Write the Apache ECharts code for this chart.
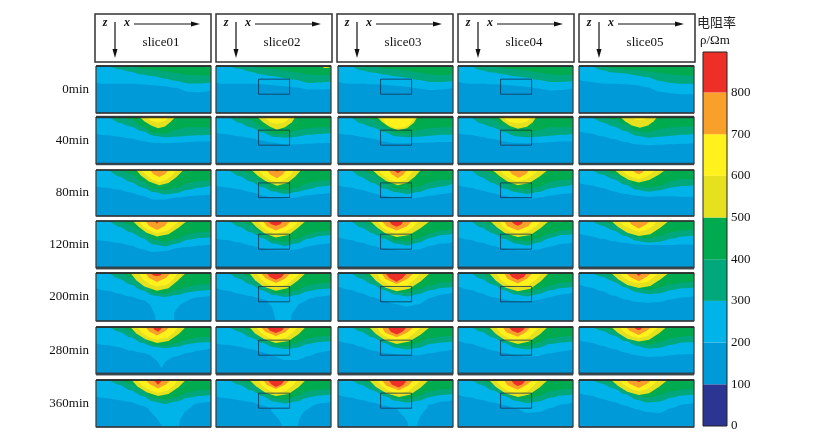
<!DOCTYPE html>
<html>
<head>
<meta charset="utf-8">
<script src="https://cdn.jsdelivr.net/npm/echarts@6/dist/echarts.min.js"></script>
<style>html,body{margin:0;padding:0;background:#fff}#c{width:814px;height:444px}</style>
</head>
<body>
<div id="c"></div>
<script>
const timeLabels = ['0min','40min','80min','120min','200min','280min','360min'];
const sliceNames = ['slice01','slice02','slice03','slice04','slice05'];
const bandTicks = [0,100,200,300,400,500,600,700,800];
const bandSpans = [100,100,100,100,100,100,100,100,97];
const bandColors = ['#2d3592','#009ad9','#00b4ea','#00a87c','#00aa4f','#e5e11f','#fff11c','#f9a02b','#ee2f27'];

// Horizontal sample positions (% of the section width) for the 200/300/400 contours
const sampleX = [0,10,20,30,40,50,60,70,80,90,100];
// Survey box outline in slices 02-04 (section %)
const boxX = [37,64,64,37,37];
const boxDepth = [28,28,60,60,28];

// Contour depths (% of section height), indexed [time][slice]
const edge200 = [
 [[36,38,38,38,39,41,43,47,55,56,52],[36,38,38,38,39,41,43,46,50,50,49],[34,38,38,39,40,42,44,48,51,50,47],[34,38,38,39,40,42,44,48,52,51,48],[30,34,37,38,39,41,46,55,58,60,60]],
 [[36,39,42,46,51,55,56,55,53,52,52],[34,37,41,45,50,55,59,58,57,56,55],[35,38,42,46,52,56,56,55,54,53,53],[35,38,42,47,52,55,56,55,53,52,52],[31,35,41,47,53,58,60,59,58,57,56]],
 [[36,39,43,49,56,64,64,60,57,55,53],[34,38,42,48,55,60,62,59,55,52,50],[33,38,43,50,56,60,62,60,56,52,49],[33,38,44,50,56,60,62,60,56,52,50],[29,33,39,46,52,56,58,57,57,58,58]],
 [[40,43,47,52,60,66,64,58,55,52,50],[38,41,46,52,58,62,63,60,54,50,47],[34,40,46,53,58,62,63,60,53,48,45],[34,40,46,53,58,62,63,60,54,49,46],[27,32,38,43,47,50,51,51,51,50,50]],
 [[32,37,43,49,56,62,62,60,55,50,48],[32,37,43,48,54,60,64,62,54,49,46],[28,35,42,50,58,65,70,65,52,45,41],[28,35,42,50,55,58,60,56,50,45,41],[24,30,38,47,55,60,62,60,55,51,49]],
 [[35,39,43,50,55,62,70,62,55,50,46],[35,38,42,47,53,62,70,70,62,54,49],[29,35,42,50,55,58,60,60,56,52,48],[29,35,42,50,55,60,63,61,56,52,48],[28,33,40,47,54,60,64,63,60,58,57]],
 [[35,39,43,47,55,66,70,68,56,49,46],[35,39,43,47,54,62,70,66,56,50,47],[32,37,42,48,54,60,66,64,52,46,43],[32,37,42,48,53,60,70,68,60,52,48],[28,33,40,47,55,62,68,70,60,52,49]]
];
const edge300 = [
 [[0,0,7,12,18,22,27,32,37,37,35],[0,0,6,12,18,22,26,30,36,35,33],[0,0,9,14,18,22,25,30,34,34,32],[0,0,9,14,18,22,25,30,34,34,32],[0,0,9,14,16,20,24,32,36,38,38]],
 [[0,0,12,20,30,40,43,42,40,39,38],[0,0,12,22,33,42,44,42,38,36,34],[0,0,14,22,32,41,43,42,40,38,37],[0,0,14,22,32,41,43,42,40,38,36],[0,0,11,20,30,40,44,42,40,38,36]],
 [[0,0,14,26,38,48,53,50,43,38,34],[0,0,13,25,37,47,52,48,42,36,33],[0,0,15,28,40,48,52,48,40,36,30],[0,0,15,28,40,48,52,48,40,36,32],[0,0,10,20,32,43,47,44,38,35,33]],
 [[0,0,12,24,36,50,54,48,40,36,35],[0,0,12,24,36,48,53,48,38,32,30],[0,0,14,26,38,48,52,46,36,30,27],[0,0,14,26,38,48,52,46,36,30,28],[0,0,10,20,32,42,46,44,38,33,31]],
 [[0,0,12,24,36,47,50,46,40,37,35],[0,0,12,24,36,46,50,46,38,34,32],[0,0,12,24,36,45,49,44,36,31,29],[0,0,12,24,36,45,49,44,36,31,29],[0,0,8,18,30,40,44,42,36,32,30]],
 [[0,0,10,22,34,42,45,42,36,33,32],[0,0,10,22,34,43,47,44,36,32,30],[0,0,10,22,34,44,48,44,36,33,31],[0,0,10,22,34,44,48,44,36,33,31],[0,0,8,18,30,40,46,44,38,33,32]],
 [[0,0,10,22,34,46,51,46,38,34,32],[0,0,10,22,34,46,50,46,37,33,31],[0,0,10,22,34,44,48,44,36,32,30],[0,0,10,22,34,44,49,46,38,33,31],[0,0,8,18,30,42,48,46,38,33,31]]
];
const edge400 = [
 [[0,0,0,0,6,8,11,15,19,20,20],[0,0,0,0,5,7,10,14,18,19,20],[0,0,0,0,5,7,10,14,18,19,18],[0,0,0,0,5,7,10,14,18,19,18],[0,0,0,5,8,8,11,15,18,20,21]],
 [[0,0,0,5,20,34,35,27,22,22,23],[0,0,0,6,22,36,36,28,24,22,22],[0,0,0,5,20,34,35,28,24,22,22],[0,0,0,5,18,32,34,28,22,22,22],[0,0,0,5,16,30,32,26,22,20,20]],
 [[0,0,0,8,24,40,44,38,28,24,22],[0,0,0,8,24,40,44,38,28,24,22],[0,0,0,9,26,40,42,36,26,22,20],[0,0,0,9,26,40,42,36,26,22,20],[0,0,0,7,20,34,38,34,24,20,20]],
 [[0,0,0,8,22,40,44,38,28,24,22],[0,0,0,8,24,41,44,38,28,22,20],[0,0,0,9,26,41,43,36,26,20,18],[0,0,0,9,26,41,43,36,26,20,18],[0,0,0,7,20,34,38,32,24,20,18]],
 [[0,0,0,8,22,41,43,36,28,24,22],[0,0,0,8,23,41,43,36,26,22,20],[0,0,0,9,24,39,41,34,26,20,18],[0,0,0,9,24,39,41,34,26,20,18],[0,0,0,7,19,32,36,30,24,20,18]],
 [[0,0,0,8,22,37,40,34,26,22,20],[0,0,0,8,22,38,42,34,24,20,18],[0,0,0,8,23,38,41,34,24,20,18],[0,0,0,8,23,38,41,34,24,20,18],[0,0,0,7,19,32,38,32,24,20,18]],
 [[0,0,0,8,22,38,42,36,26,22,20],[0,0,0,8,22,38,42,34,24,21,19],[0,0,0,8,23,38,41,34,24,20,18],[0,0,0,8,23,38,41,34,24,20,18],[0,0,0,7,19,32,38,32,24,20,18]]
];

// Low-resistivity plumes below the 200 contour: [x%, depth%] pairs
const plume200 = [
 [[],[],[],[],[]],
 [[],[],[],[],[]],
 [[],[],[],[],[]],
 [[],[],[],[],[]],
 [[[42,56],[47,66],[51,85],[52,100],[68,100],[68,82],[73,66],[84,52]],[[44,58],[49,72],[52,100],[65,100],[66,85],[72,65],[80,55]],[],[],[]],
 [[[48,62],[53,72],[57,87],[60,74],[65,66]],[],[],[],[]],
 [[[46,64],[53,82],[58,100],[72,100],[73,85],[77,68],[84,55]],[[48,66],[55,85],[58,100],[71,100],[72,85],[76,68],[85,53]],[[52,65],[58,80],[61,92],[61,100],[69,100],[69,92],[72,75],[78,58]],[],[]]
];

// High-resistivity domes from the surface: [x%, depth%] pairs
const dome500 = [
 [[[92,0],[93,4],[100,4]],[[92,0],[94,4],[100,4]],[[97,0],[98,3],[100,3]],[],[]],
 [[[38,0],[42,9],[48,18],[54,24],[60,20],[65,10],[69,0]],[[36,0],[41,11],[47,21],[53,27],[60,22],[66,11],[69,0]],[[34,0],[38,10],[45,22],[52,28],[60,24],[66,12],[69,0]],[[35,0],[39,9],[45,19],[52,25],[60,21],[65,11],[68,0]],[[36,0],[40,9],[46,18],[53,23],[60,18],[65,9],[68,0]]],
 [[[35,0],[39,12],[46,25],[55,33],[63,28],[70,15],[76,0]],[[31,0],[36,12],[43,24],[53,34],[62,28],[69,14],[74,0]],[[30,0],[35,12],[42,24],[52,33],[60,28],[67,14],[72,0]],[[30,0],[36,13],[43,25],[52,33],[62,28],[71,14],[78,0]],[[31,0],[36,11],[43,21],[52,27],[61,22],[69,11],[75,0]]],
 [[[32,0],[37,12],[44,25],[53,33],[63,28],[72,14],[79,0]],[[30,0],[35,13],[42,26],[52,35],[63,30],[71,15],[78,0]],[[28,0],[34,14],[41,26],[51,34],[62,30],[72,15],[80,0]],[[28,0],[34,14],[41,26],[52,34],[63,30],[72,15],[79,0]],[[28,0],[34,13],[42,25],[52,32],[62,28],[71,14],[78,0]]],
 [[[30,0],[35,15],[42,28],[53,37],[63,32],[71,16],[78,0]],[[29,0],[34,15],[41,28],[52,37],[62,32],[71,16],[78,0]],[[27,0],[33,16],[41,30],[51,38],[62,33],[72,17],[80,0]],[[27,0],[33,16],[41,30],[52,38],[63,33],[72,17],[79,0]],[[28,0],[34,13],[42,25],[52,31],[62,27],[71,13],[78,0]]],
 [[[30,0],[35,14],[43,26],[53,34],[63,30],[72,15],[78,0]],[[29,0],[34,14],[42,26],[52,34],[63,30],[72,15],[78,0]],[[27,0],[33,15],[41,28],[51,36],[62,31],[72,16],[80,0]],[[27,0],[33,15],[41,28],[52,36],[62,31],[71,16],[78,0]],[[28,0],[34,13],[42,25],[52,31],[61,27],[70,13],[76,0]]],
 [[[31,0],[36,14],[44,26],[54,34],[63,30],[72,15],[78,0]],[[29,0],[35,14],[43,27],[52,34],[63,30],[72,15],[78,0]],[[27,0],[33,15],[42,28],[53,36],[63,31],[72,16],[79,0]],[[27,0],[33,15],[41,28],[52,36],[62,31],[71,16],[78,0]],[[28,0],[34,13],[42,25],[52,32],[61,28],[70,14],[77,0]]]
];
const dome600 = [
 [[],[],[],[],[]],
 [[[44,0],[48,8],[54,12],[60,8],[64,0]],[[42,0],[47,11],[53,15],[60,11],[65,0]],[[37,0],[42,16],[50,24],[58,22],[63,14],[67,0]],[[39,0],[44,10],[52,14],[60,10],[64,0]],[[44,0],[50,6],[56,6],[60,0]]],
 [[[39,0],[44,12],[49,21],[55,26],[62,20],[67,10],[70,0]],[[37,0],[41,12],[47,22],[53,27],[60,21],[65,11],[68,0]],[[35,0],[39,11],[45,21],[52,27],[59,21],[63,10],[66,0]],[[36,0],[40,11],[46,20],[52,25],[60,20],[66,10],[70,0]],[[37,0],[41,9],[46,16],[52,20],[58,15],[63,8],[66,0]]],
 [[[37,0],[41,11],[47,21],[53,26],[62,21],[68,10],[72,0]],[[36,0],[40,12],[46,22],[52,28],[61,22],[68,11],[72,0]],[[34,0],[38,12],[44,22],[51,27],[60,22],[66,11],[70,0]],[[36,0],[39,12],[45,22],[52,27],[61,22],[68,11],[72,0]],[[35,0],[39,10],[46,18],[52,23],[60,18],[65,9],[68,0]]],
 [[[37,0],[41,13],[47,24],[53,28],[62,24],[68,12],[71,0]],[[35,0],[39,13],[45,24],[52,30],[61,25],[68,12],[73,0]],[[34,0],[37,14],[44,25],[51,30],[60,26],[67,13],[72,0]],[[33,0],[37,14],[44,25],[52,30],[61,26],[68,13],[73,0]],[[35,0],[39,10],[45,18],[52,22],[60,18],[65,9],[69,0]]],
 [[[36,0],[40,12],[46,22],[53,27],[62,23],[68,11],[72,0]],[[35,0],[39,12],[45,22],[52,28],[61,23],[67,11],[71,0]],[[34,0],[37,13],[44,24],[51,29],[60,25],[67,12],[72,0]],[[33,0],[37,13],[44,24],[52,29],[60,25],[66,12],[70,0]],[[35,0],[39,10],[45,19],[52,24],[60,19],[65,9],[69,0]]],
 [[[36,0],[40,12],[47,22],[54,27],[62,23],[68,11],[71,0]],[[37,0],[40,12],[46,22],[52,28],[61,23],[67,11],[71,0]],[[34,0],[38,13],[45,24],[53,29],[61,24],[67,12],[72,0]],[[33,0],[37,13],[44,24],[52,29],[60,25],[66,12],[70,0]],[[35,0],[39,10],[45,19],[52,24],[60,19],[65,9],[69,0]]]
];
const dome700 = [
 [[],[],[],[],[]],
 [[],[],[],[],[]],
 [[[47,0],[50,9],[55,15],[60,9],[63,0]],[[44,0],[47,10],[53,18],[58,10],[61,0]],[[44,0],[47,10],[52,18],[57,10],[60,0]],[[44,0],[47,9],[53,17],[59,9],[62,0]],[[46,0],[49,6],[52,9],[55,6],[57,0]]],
 [[[43,0],[46,10],[53,19],[60,10],[63,0]],[[41,0],[44,11],[52,20],[61,11],[65,0]],[[38,0],[42,11],[51,20],[60,11],[64,0]],[[40,0],[43,11],[52,20],[61,11],[65,0]],[[43,0],[46,8],[52,16],[58,8],[62,0]]],
 [[[43,0],[46,10],[53,19],[61,10],[65,0]],[[39,0],[43,11],[52,21],[60,12],[65,0]],[[38,0],[41,12],[51,23],[60,13],[66,0]],[[40,0],[43,12],[52,22],[60,12],[65,0]],[[41,0],[44,8],[52,17],[59,8],[63,0]]],
 [[[43,0],[46,9],[53,18],[60,9],[64,0]],[[39,0],[43,10],[52,19],[60,11],[65,0]],[[38,0],[41,12],[51,22],[60,12],[66,0]],[[39,0],[42,11],[52,21],[59,11],[63,0]],[[41,0],[44,8],[52,17],[59,8],[63,0]]],
 [[[43,0],[47,9],[54,18],[61,9],[65,0]],[[41,0],[44,10],[52,19],[60,10],[64,0]],[[38,0],[42,12],[53,22],[61,12],[66,0]],[[40,0],[43,11],[52,21],[59,11],[65,0]],[[41,0],[44,8],[52,17],[59,8],[63,0]]]
];
const dome800 = [
 [[],[],[],[],[]],
 [[],[],[],[],[]],
 [[],[[50,0],[53,3],[56,0]],[[48,0],[52,7],[56,0]],[],[]],
 [[[51,0],[53,6],[55,0]],[[45,0],[48,7],[52,10],[56,7],[58,0]],[[44,0],[47,8],[51,12],[55,8],[57,0]],[[46,0],[49,7],[52,10],[55,7],[57,0]],[]],
 [[[47,0],[50,5],[53,7],[56,5],[58,0]],[[44,0],[47,9],[52,14],[57,9],[60,0]],[[41,0],[45,11],[51,18],[56,11],[60,0]],[[44,0],[47,9],[52,14],[57,9],[60,0]],[[49,0],[52,6],[55,0]]],
 [[[49,0],[51,6],[54,10],[56,6],[58,0]],[[44,0],[47,8],[52,13],[57,8],[60,0]],[[43,0],[46,10],[51,16],[56,10],[60,0]],[[44,0],[47,8],[52,13],[56,8],[59,0]],[[47,0],[50,5],[52,7],[54,5],[55,0]]],
 [[[50,0],[54,10],[58,0]],[[45,0],[48,9],[52,15],[57,9],[60,0]],[[44,0],[47,10],[53,16],[57,10],[60,0]],[[46,0],[49,9],[52,13],[56,9],[59,0]],[[49,0],[52,5],[56,0]]]
];

// Section frame outline and per-row frame weights
const frameX = [0,100,100,0,0];
const frameDepth = [0,0,100,100,0];
const bottomWeights = [1.5,2.5,1.5,3,1.5,3,1.5];
const topWeights = [2,2.5,1.5,1.5,2,2,2];

// Page layout
const colLeft = [96,216,338,458,579];
const rowTop = [66,117,170,221,273,327,380];
const rowHeight = [47,47,46,47,48,47,47];
const panelW = 115;
const serif = '"Liberation Serif","Times New Roman",serif';

const grids = [], xAxes = [], yAxes = [], series = [], graphics = [];

function area(data, color, idx, z, smooth) {
  if (!data.length) return;
  series.push({
    type: 'line', xAxisIndex: idx, yAxisIndex: idx, data, z,
    smooth, smoothMonotone: 'x',
    showSymbol: false, silent: true, animation: false,
    lineStyle: { width: 0 },
    areaStyle: { color, opacity: 1, origin: 'start' }
  });
}
function stroke(data, color, width, idx, z) {
  series.push({
    type: 'line', xAxisIndex: idx, yAxisIndex: idx, data, z, clip: false,
    showSymbol: false, silent: true, animation: false,
    lineStyle: { color, width }
  });
}
const pairs = (xs, ys) => xs.map((x, i) => [x, ys[i]]);

timeLabels.forEach((label, r) => {
  sliceNames.forEach((_, c) => {
    const idx = grids.length;
    grids.push({
      left: colLeft[c], top: rowTop[r], width: panelW, height: rowHeight[r],
      show: true, backgroundColor: bandColors[1], borderWidth: 0
    });
    xAxes.push({ type: 'value', gridIndex: idx, min: 0, max: 100, show: false });
    yAxes.push({ type: 'value', gridIndex: idx, min: 0, max: 100, inverse: true, show: false });

    area(pairs(sampleX, edge200[r][c]), bandColors[2], idx, 2, 0.3);
    area(plume200[r][c], bandColors[2], idx, 2, false);
    area(pairs(sampleX, edge300[r][c]), bandColors[3], idx, 3, 0.3);
    area(pairs(sampleX, edge400[r][c]), bandColors[4], idx, 4, 0.3);
    area(dome500[r][c], bandColors[5], idx, 5, false);
    area(dome600[r][c], bandColors[6], idx, 6, false);
    area(dome700[r][c], bandColors[7], idx, 7, false);
    area(dome800[r][c], bandColors[8], idx, 8, false);

    if (c >= 1 && c <= 3) stroke(pairs(boxX, boxDepth), 'rgba(20,50,80,0.8)', 1, idx, 9);
    stroke(pairs(frameX, frameDepth), 'rgba(60,60,60,0.85)', 1.5, idx, 10);
    stroke([[0, 100], [100, 100]], 'rgba(50,60,65,0.85)', bottomWeights[r], idx, 10);
    stroke([[0, 0], [100, 0]], 'rgba(40,40,40,0.8)', topWeights[r], idx, 10);
  });
  graphics.push({
    type: 'text', x: 89, y: rowTop[r] + rowHeight[r] / 2,
    style: { text: label, font: '13px ' + serif, fill: '#111', align: 'right', verticalAlign: 'middle' }
  });
});

// Header boxes with the x / z direction arrows
const headLeft = [95,216,337,458,579];
sliceNames.forEach((name, c) => {
  const l = headLeft[c];
  const arrowStyle = { stroke: '#111', lineWidth: 1.2 };
  graphics.push(
    { type: 'rect', shape: { x: l, y: 14, width: 116, height: 48 }, style: { fill: '#fff', stroke: '#333', lineWidth: 1.5 } },
    { type: 'text', x: l + 10, y: 23, style: { text: 'z', font: 'italic bold 12px ' + serif, fill: '#111', align: 'center', verticalAlign: 'middle' } },
    { type: 'text', x: l + 32, y: 23, style: { text: 'x', font: 'italic bold 12px ' + serif, fill: '#111', align: 'center', verticalAlign: 'middle' } },
    { type: 'line', shape: { x1: l + 20, y1: 22, x2: l + 20, y2: 52 }, style: arrowStyle },
    { type: 'polygon', shape: { points: [[l + 17.5, 49], [l + 22.5, 49], [l + 20, 58]] }, style: { fill: '#111' } },
    { type: 'line', shape: { x1: l + 39, y1: 24, x2: l + 98, y2: 24 }, style: arrowStyle },
    { type: 'polygon', shape: { points: [[l + 96, 21.5], [l + 96, 26.5], [l + 105, 24]] }, style: { fill: '#111' } },
    { type: 'text', x: l + 66, y: 43, style: { text: name, font: '13px ' + serif, fill: '#111', align: 'center', verticalAlign: 'middle' } }
  );
});

// Colour scale
const barIdx = grids.length;
grids.push({ left: 703, top: 52, width: 24, height: 374 });
xAxes.push({ type: 'category', gridIndex: barIdx, data: ['rho'], show: false });
yAxes.push({
  type: 'value', gridIndex: barIdx, position: 'right', min: 0, max: 897, interval: 100,
  axisLine: { show: false }, axisTick: { show: false }, splitLine: { show: false },
  axisLabel: {
    show: true, margin: 4,
    customValues: bandTicks, fontFamily: serif, fontSize: 13, color: '#111'
  }
});
bandSpans.forEach((span, i) => {
  series.push({
    type: 'bar', xAxisIndex: barIdx, yAxisIndex: barIdx, stack: 'scale', barWidth: '100%',
    data: [span], silent: true, animation: false, itemStyle: { color: bandColors[i] }
  });
});
graphics.push(
  { type: 'rect', z: 20, shape: { x: 703, y: 52, width: 24, height: 374 }, style: { fill: 'none', stroke: '#222', lineWidth: 1 } },
  { type: 'text', x: 697, y: 22, style: { text: '电阻率', font: '13px "Noto Sans CJK SC"', fill: '#222', verticalAlign: 'middle' } },
  { type: 'text', x: 700, y: 41, style: { text: 'ρ/Ωm', font: '13px ' + serif, fill: '#111', verticalAlign: 'middle' } }
);

const chart = echarts.init(document.getElementById('c'), null, { renderer: 'canvas' });
chart.setOption({
  animation: false, backgroundColor: '#fff',
  grid: grids, xAxis: xAxes, yAxis: yAxes, series,
  graphic: { elements: graphics }
});
</script>
</body>
</html>
